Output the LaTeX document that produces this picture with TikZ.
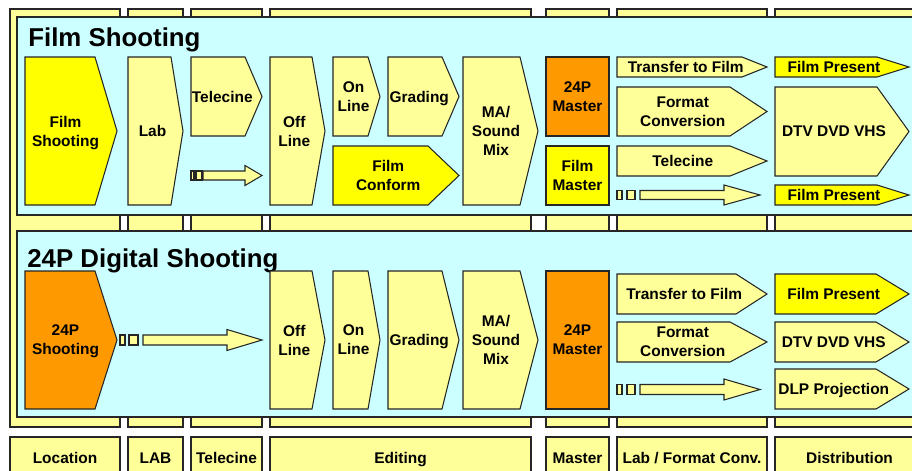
\documentclass[tikz,border=0pt]{standalone}
\usepackage{fontspec}
\setmainfont{Liberation Sans}
\usepackage{tikz}

\definecolor{panelcyan}{HTML}{CCFFFF}
\definecolor{paleyellow}{HTML}{FFFF99}
\definecolor{brightyellow}{HTML}{FFFF00}
\definecolor{mastorange}{HTML}{FF9900}

\begin{document}
\begin{tikzpicture}[x=0.02cm,y=-0.02cm]
  \clip (0,0) rectangle (912,470);
  \tikzstyle{every node}=[font=\fontsize{8.8}{10.8}\selectfont\bfseries,align=center,inner sep=0pt,text depth=0pt]
  \tikzstyle{outline}=[draw=black!85,line width=0.6pt]
  \tikzstyle{title}=[anchor=base west,font=\fontsize{14.7}{17}\selectfont\bfseries]

%% department columns and their labels
  \foreach \xa/\xb/\nm/\dept in {10/120/location/Location, 128/183/lab/LAB, 191/262/telecine/Telecine,
                                 270/531/editing/Editing, 546/609/master/Master,
                                 617/767/labconv/{Lab / Format Conv.}, 775/924/distrib/Distribution} {
    \draw[outline,fill=paleyellow] (\xa,9) rectangle (\xb,427);
    \draw[outline,fill=paleyellow] (\xa,437) rectangle (\xb,490);
    \node[anchor=base] (col-\nm) at ({(\xa+\xb)/2},463) {\dept};
  }

%% the two workflow panels
  \draw[outline,fill=panelcyan] (17,17) rectangle (930,215);
  \draw[outline,fill=panelcyan] (17,231) rectangle (930,417);
  \node[title] (film-title)    at (28,46)  {Film Shooting};
  \node[title] (digital-title) at (27,267) {24P Digital Shooting};

%% process stages: name / left / body end / tip / top / bottom / fill / text
  \foreach \nm/\xa/\xb/\xc/\ya/\yb/\col/\txt in {
      fshoot/25/95/117/57/205/brightyellow/Film\\Shooting,
      lab/128/171/183/57/205/paleyellow/Lab,
      tele/191/245/262/57/136/paleyellow/Telecine,
      offa/270/312/325/57/205/paleyellow/Off\\Line,
      ona/333/368/380/57/136/paleyellow/On\\Line,
      grada/388/442/459/57/136/paleyellow/Grading,
      conform/333/428/459/146/205/brightyellow/Film\\Conform,
      mixa/463/520/538/57/205/paleyellow/{MA/\\Sound\\Mix},
      masta/546/609/609/57/136/mastorange/24P\\Master,
      filmmast/546/609/609/146/205/brightyellow/Film\\Master,
      transa/617/742/767/57/77/paleyellow/Transfer to Film,
      formata/617/730/767/87/136/paleyellow/Format\\Conversion,
      telea/617/730/767/146/176/paleyellow/Telecine,
      presa/775/877/909/57/77/brightyellow/Film Present,
      dtva/775/877/909/87/176/paleyellow/DTV DVD VHS,
      presb/775/877/909/185/205/brightyellow/Film Present,
      dshoot/25/95/117/271/409/mastorange/24P\\Shooting,
      offb/270/312/325/271/409/paleyellow/Off\\Line,
      onb/333/368/380/271/409/paleyellow/On\\Line,
      gradb/388/442/459/271/409/paleyellow/Grading,
      mixb/463/520/538/271/409/paleyellow/{MA/\\Sound\\Mix},
      mastb/546/609/609/271/409/mastorange/24P\\Master,
      transb/617/736/767/274/314/paleyellow/Transfer to Film,
      formatb/617/730/767/322/362/paleyellow/Format\\Conversion,
      presc/775/876/909/274/314/brightyellow/Film Present,
      dtvb/775/876/909/322/362/paleyellow/DTV DVD VHS,
      dlp/775/876/909/369/409/paleyellow/DLP Projection} {
    \draw[outline,fill=\col] (\xa,\ya) -- (\xb,\ya) -- (\xc,{(\ya+\yb)/2}) -- (\xb,\yb) -- (\xa,\yb) -- cycle;
    \node (\nm) at ({(\xa+(\xb+\xc)/2)/2},{(\ya+\yb)/2}) {\txt};
  }

%% skip arrows: two small blocks, then a block arrow
  \foreach \sa/\sb/\sc/\sd/\se/\hb/\tip/\yc/\hs/\hh in {
      191/194/196/202/203/245/262/175.5/4.5/10,
      120/125/129/138/143/227/262/340/5/10.5,
      617/622/627/635/640/724/760/195/4.5/10,
      617/622/627/635/640/724/760/389.5/5/10.5} {
    \draw[outline,fill=paleyellow] (\sa,\yc-\hs) rectangle (\sb,\yc+\hs);
    \draw[outline,fill=paleyellow] (\sc,\yc-\hs) rectangle (\sd,\yc+\hs);
    \draw[outline,fill=paleyellow] (\se,\yc-\hs) -- (\hb,\yc-\hs) -- (\hb,\yc-\hh) -- (\tip,\yc)
      -- (\hb,\yc+\hh) -- (\hb,\yc+\hs) -- (\se,\yc+\hs) -- cycle;
  }
\end{tikzpicture}
\end{document}
